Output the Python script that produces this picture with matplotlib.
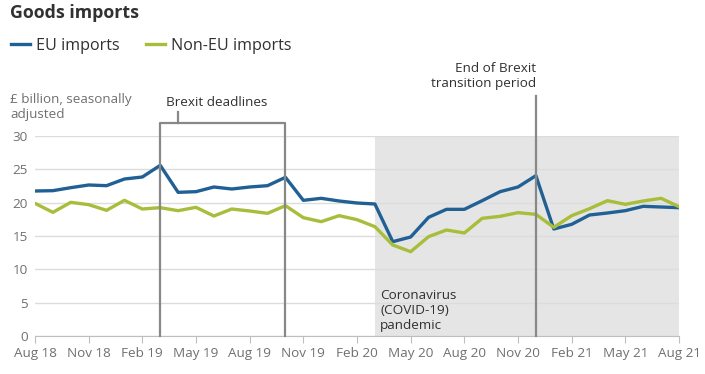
import numpy as np
import matplotlib.pyplot as plt

plt.rcParams['font.family'] = ['Open Sans', 'DejaVu Sans']

# ----------------------------------------------------------
# DATA (Aug 18 -> Aug 21, monthly)
# ----------------------------------------------------------
tick_labels = ["Aug 18", "Nov 18", "Feb 19", "May 19", "Aug 19", "Nov 19",
               "Feb 20", "May 20", "Aug 20", "Nov 20", "Feb 21", "May 21", "Aug 21"]

eu_imports = [21.75, 21.8, 22.25, 22.65, 22.55, 23.55, 23.85, 25.6, 21.55, 21.65,
              22.35, 22.05, 22.35, 22.55, 23.8, 20.35, 20.65, 20.25, 19.95, 19.8,
              14.15, 14.85, 17.8, 19.0, 19.0, 20.3, 21.65, 22.35, 24.05, 16.05,
              16.75, 18.15, 18.45, 18.8, 19.45, 19.35, 19.25]

non_eu_imports = [19.9, 18.55, 20.05, 19.7, 18.85, 20.35, 19.05, 19.25, 18.8, 19.3,
                  18.0, 19.05, 18.75, 18.4, 19.55, 17.75, 17.15, 18.05, 17.45, 16.4,
                  13.65, 12.65, 14.9, 15.9, 15.45, 17.65, 17.95, 18.5, 18.25, 16.3,
                  18.05, 19.1, 20.3, 19.75, 20.25, 20.65, 19.4]

months = np.arange(len(eu_imports))

covid_start = 19        # Mar 20
brexit_deadlines = (7, 14)   # Mar 19, Oct 19
transition_end = 28     # Dec 20

EU_COL = "#206095"
NONEU_COL = "#a8bd3a"
TXT = "#323132"
GREY = "#707070"
LINE_GREY = "#888888"

# ----------------------------------------------------------
# PLOT
# ----------------------------------------------------------
fig = plt.figure(figsize=(7.05, 3.74), dpi=100)
ax = fig.add_axes([35 / 705, 38 / 374, 644 / 705, 200 / 374])

ax.axvspan(covid_start, months[-1], ymin=0, ymax=1, color="#e5e5e5", lw=0, zorder=0)

ax.plot(months, eu_imports, color=EU_COL, lw=2.4, label="EU imports", zorder=3)
ax.plot(months, non_eu_imports, color=NONEU_COL, lw=2.4, label="Non-EU imports", zorder=3)

ax.set_xlim(0, months[-1])
ax.set_ylim(0, 30)
ax.set_yticks(range(0, 31, 5))
ax.set_xticks(months[::3])
ax.set_xticklabels(tick_labels)
ax.grid(axis="y", color="#dcdcdc", lw=1)
ax.set_axisbelow(True)

for s in ["top", "right", "left"]:
    ax.spines[s].set_visible(False)
ax.spines["bottom"].set_color("#bebebe")
ax.tick_params(axis="x", colors="#bebebe", length=5, labelcolor=GREY, labelsize=9.7, pad=3)
ax.tick_params(axis="y", length=0, labelcolor=GREY, labelsize=9.7, pad=5)

# Brexit deadlines bracket
x0, x1 = brexit_deadlines
ax.plot([x0, x0, x1, x1], [0, 32, 32, 0], color=LINE_GREY, lw=1.6, clip_on=False, zorder=4)
ax.plot([8, 8], [32, 33.6], color=LINE_GREY, lw=1.6, clip_on=False, zorder=4)
ax.text(7.3, 34.0, "Brexit deadlines", fontsize=9.7, color=TXT, ha="left", va="bottom")

# End of transition line
ax.plot([transition_end, transition_end], [0, 36], color=LINE_GREY, lw=1.6,
        clip_on=False, zorder=4)
ax.text(transition_end, 36.9, "End of Brexit\ntransition period", fontsize=9.7,
        color=TXT, ha="right", va="bottom", linespacing=1.2)

ax.text(covid_start + 0.3, 0.6, "Coronavirus\n(COVID-19)\npandemic", fontsize=9.7,
        color=TXT, ha="left", va="bottom", linespacing=1.2)

# titles / legend
fig.text(10 / 705, 1 - 13 / 374, "Goods imports", fontsize=12.8, fontweight="bold",
         color=TXT, ha="left", va="center")
fig.text(10 / 705, 1 - 107 / 374, "£ billion, seasonally\nadjusted", fontsize=9.7,
         color=GREY, ha="left", va="center", linespacing=1.15)
fig.legend(loc="center left", bbox_to_anchor=(-4 / 705, 1 - 46 / 374), ncol=2,
           frameon=False, fontsize=11.6, handlelength=1.2, handletextpad=0.4,
           columnspacing=1.6, labelcolor=TXT)

fig.savefig("out.png", dpi=100)
